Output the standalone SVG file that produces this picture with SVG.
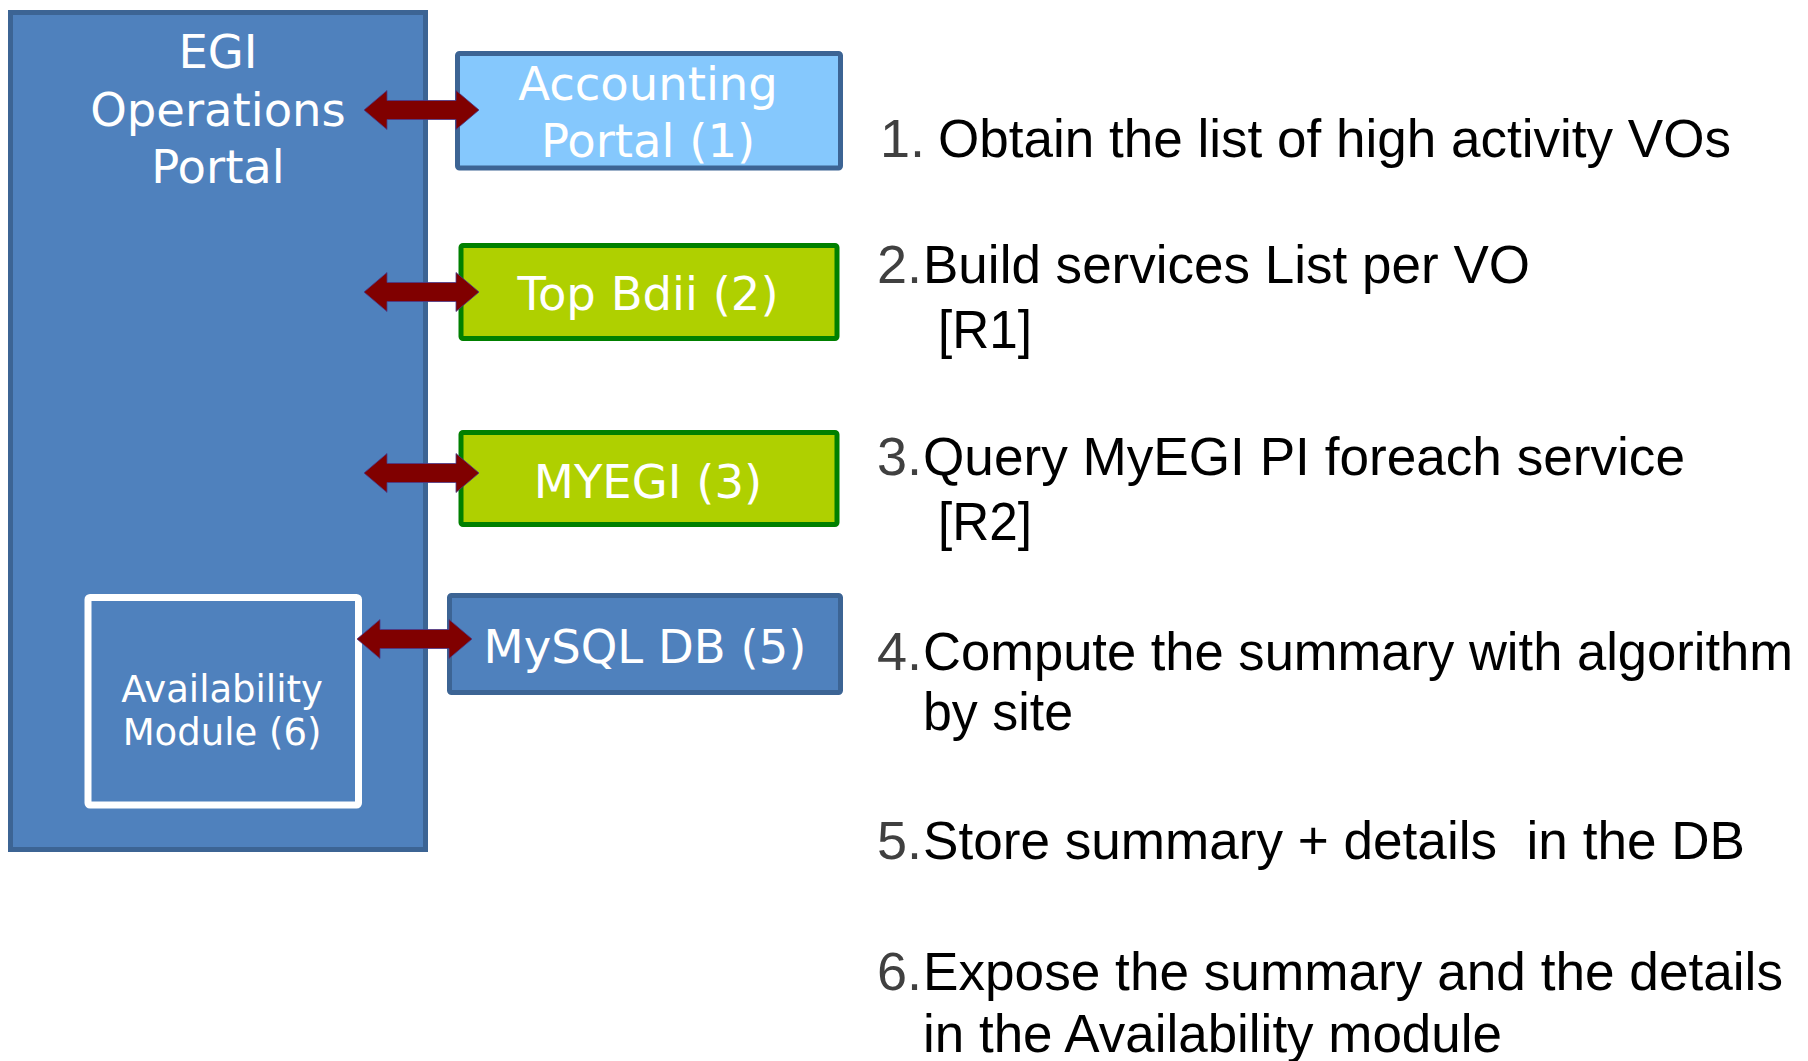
<svg xmlns="http://www.w3.org/2000/svg" xmlns:xlink="http://www.w3.org/1999/xlink" width="1808" height="1061" viewBox="0 0 1808 1061">
<style>
.lbl{font-family:"DejaVu Sans",Verdana,sans-serif;fill:#ffffff;text-anchor:middle}
.big{font-size:46.5px}
.small{font-size:37px}
.step{font-family:"Liberation Sans",Arial,sans-serif;font-size:54px;fill:#000000;white-space:pre}
.num{fill:#404040}
.arrow{fill:#800000;stroke:#4a3a8a;stroke-width:0.8}
</style>
<defs>
<path id="dbl" d="M0,0 L23,-19.5 L23,-9.5 L92,-9.5 L92,-19.5 L115,0 L92,19.5 L92,9.5 L23,9.5 L23,19.5 Z"/>
</defs>
<rect width="1808" height="1061" fill="#ffffff"/>

<g id="egi-portal">
<rect x="10.5" y="12.5" width="415" height="837" fill="#4f81bd" stroke="#3c6494" stroke-width="5"/>
<text class="lbl big" x="218" y="68">EGI</text>
<text class="lbl big" x="218" y="126">Operations</text>
<text class="lbl big" x="218" y="183">Portal</text>
</g>

<g id="availability-module">
<rect x="88" y="597.5" width="270.5" height="207.5" fill="#4f81bd" stroke="#ffffff" stroke-width="7" rx="2"/>
<text class="lbl small" x="222" y="702">Availability</text>
<text class="lbl small" x="222" y="745">Module (6)</text>
</g>

<g id="accounting-portal">
<rect x="457.5" y="53.5" width="383" height="114.5" fill="#85c8fd" stroke="#3c6494" stroke-width="5" rx="2"/>
<text class="lbl big" x="648" y="100">Accounting</text>
<text class="lbl big" x="648" y="157">Portal (1)</text>
</g>

<g id="top-bdii">
<rect x="461" y="245.5" width="376" height="93" fill="#afd000" stroke="#008000" stroke-width="5" rx="2"/>
<text class="lbl big" x="648" y="310">Top Bdii (2)</text>
</g>

<g id="myegi">
<rect x="461" y="432.5" width="376" height="92" fill="#afd000" stroke="#008000" stroke-width="5" rx="2"/>
<text class="lbl big" x="648" y="498">MYEGI (3)</text>
</g>

<g id="mysql-db">
<rect x="449.5" y="595.5" width="391" height="97" fill="#4f81bd" stroke="#3c6494" stroke-width="5" rx="2"/>
<text class="lbl big" x="645" y="663">MySQL DB (5)</text>
</g>

<g id="connectors">
<use xlink:href="#dbl" class="arrow" x="364" y="110"/>
<use xlink:href="#dbl" class="arrow" x="364" y="292"/>
<use xlink:href="#dbl" class="arrow" x="364" y="473"/>
<use xlink:href="#dbl" class="arrow" x="357" y="639"/>
</g>

<g id="steps">
<text class="step num" x="880" y="157">1.</text>
<text class="step" x="938" y="157" textLength="793" lengthAdjust="spacingAndGlyphs">Obtain the list of high activity VOs</text>

<text class="step num" x="877" y="283">2.</text>
<text class="step" x="923" y="283" textLength="607" lengthAdjust="spacingAndGlyphs">Build services List per VO</text>
<text class="step" x="938" y="348" textLength="94" lengthAdjust="spacingAndGlyphs">[R1]</text>

<text class="step num" x="877" y="475">3.</text>
<text class="step" x="923" y="475" textLength="762" lengthAdjust="spacingAndGlyphs">Query MyEGI PI foreach service</text>
<text class="step" x="938" y="540" textLength="94" lengthAdjust="spacingAndGlyphs">[R2]</text>

<text class="step num" x="877" y="670">4.</text>
<text class="step" x="923" y="670" font-size="53" style="font-size:53px" textLength="870" lengthAdjust="spacingAndGlyphs">Compute the summary with algorithm</text>
<text class="step" x="923" y="730" textLength="150" lengthAdjust="spacingAndGlyphs">by site</text>

<text class="step num" x="877" y="859">5.</text>
<text class="step" x="923" y="859" textLength="822" lengthAdjust="spacingAndGlyphs">Store summary + details  in the DB</text>

<text class="step num" x="877" y="990">6.</text>
<text class="step" x="923" y="990" textLength="860" lengthAdjust="spacingAndGlyphs">Expose the summary and the details</text>
<text class="step" x="923" y="1052" textLength="579" lengthAdjust="spacingAndGlyphs">in the Availability module</text>
</g>
</svg>
